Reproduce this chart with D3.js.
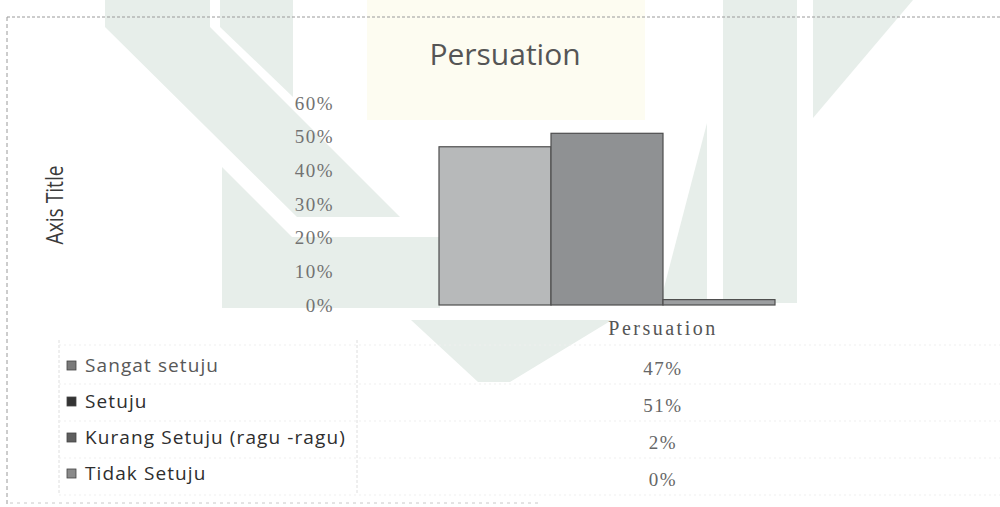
<!DOCTYPE html>
<html>
<head>
<meta charset="utf-8">
<script src="https://cdn.jsdelivr.net/npm/d3@7"></script>
<style>
  html, body { margin: 0; padding: 0; background: #fff; }
  svg { display: block; }
</style>
</head>
<body>
<svg id="chart" width="1000" height="507"></svg>
<script>
// ---- data ----
const chartTitle = "Persuation";
const categories = ["Persuation"];
const seriesNames = ["Sangat setuju", "Setuju", "Kurang Setuju (ragu -ragu)", "Tidak Setuju"];
const seriesValues = [0.47, 0.51, 0.016, 0.0];
const yTicks = [0, 0.1, 0.2, 0.3, 0.4, 0.5, 0.6];
const yAxisTitle = "Axis Title";

// ---- styles ----
const barFills = ["#b7b9ba", "#8f9193", "#9c9ea0", "#c4c4c4"];
const keyFills = ["#7a7a7a", "#333333", "#5e5e5e", "#8a8a8a"];

const svg = d3.select("#chart");

// faint scanned watermark (background decoration)
const wm = svg.append("g").attr("class", "watermark");
const green = "#e7eeea";
const wmShapes = [
  [[105,0],[210,0],[210,27],[400,217],[297,217],[105,27]],
  [[220,0],[293,0],[293,97],[220,27]],
  [[222,167],[292,237],[440,237],[440,308],[222,308]],
  [[723,0],[797,0],[797,303],[723,303]],
  [[660,303],[707,123],[707,303]],
  [[813,0],[913,0],[813,118]],
  [[411,320],[612,320],[510,382],[478,382]]
];
wm.append("rect").attr("x", 367).attr("y", 0).attr("width", 278).attr("height", 120).attr("fill", "#fdfcf1");
wm.selectAll("polygon").data(wmShapes).join("polygon")
  .attr("points", d => d.map(p => p.join(",")).join(" "))
  .attr("fill", green);

// outer frame (dashed, scanned)
svg.append("line").attr("x1", 7).attr("y1", 17).attr("x2", 1000).attr("y2", 17)
  .attr("stroke", "#9a9a9a").attr("stroke-dasharray", "3,2");
svg.append("line").attr("x1", 7).attr("y1", 17).attr("x2", 7).attr("y2", 507)
  .attr("stroke", "#9a9a9a").attr("stroke-dasharray", "4,3");
svg.append("line").attr("x1", 10).attr("y1", 503).attr("x2", 540).attr("y2", 503)
  .attr("stroke", "#c8c8c8").attr("stroke-dasharray", "3,4");

// title
svg.append("text").attr("x", 505).attr("y", 65)
  .attr("text-anchor", "middle")
  .attr("font-family", "'Open Sans', sans-serif").attr("font-size", 30)
  .attr("fill", "#555").text(chartTitle);

// scales
const y = d3.scaleLinear().domain([0, 0.6]).range([305, 103]);
const x0 = d3.scaleBand().domain(categories).range([340, 986]).paddingInner(0).paddingOuter(0.221);
const x1 = d3.scaleBand().domain(seriesNames).range([0, x0.bandwidth()]).padding(0);

// y axis
const yAxis = d3.axisLeft(y).tickValues(yTicks).tickFormat(d3.format(".0%")).tickSize(0).tickPadding(0);
const gy = svg.append("g").attr("transform", "translate(334,0)").call(yAxis);
gy.select(".domain").remove();
gy.selectAll("text")
  .attr("font-family", "'Liberation Serif', serif").attr("font-size", 19)
  .attr("letter-spacing", 1.5)
  .attr("fill", "#727272");

// y axis title
svg.append("text")
  .attr("transform", "translate(63,205) rotate(-90) scale(0.8,1)")
  .attr("text-anchor", "middle")
  .attr("font-family", "'Open Sans', sans-serif").attr("font-size", 24)
  .attr("fill", "#3a3a3a").text(yAxisTitle);

// bars
const gBars = svg.append("g");
categories.forEach(cat => {
  gBars.selectAll("rect.bar").data(seriesNames.map((s, i) => ({ s, v: seriesValues[i], i })))
    .join("rect").attr("class", "bar")
    .attr("x", d => x0(cat) + x1(d.s))
    .attr("y", d => y(d.v))
    .attr("width", x1.bandwidth())
    .attr("height", d => y(0) - y(d.v))
    .attr("fill", d => barFills[d.i])
    .attr("stroke", d => d.v > 0 ? "#4e4e4e" : "none")
    .attr("stroke-width", 1.2);
});

// category axis label
const xAxis = d3.axisBottom(x0).tickSize(0).tickPadding(0);
const gx = svg.append("g").attr("transform", "translate(0,321)").call(xAxis);
gx.select(".domain").remove();
gx.selectAll("text")
  .attr("font-family", "'Liberation Serif', serif").attr("font-size", 20)
  .attr("letter-spacing", 2.5)
  .attr("fill", "#555");

// data table
const labelY = d3.scalePoint().domain(seriesNames).range([372, 480]);
const valueY = d3.scalePoint().domain(seriesNames).range([375, 486]);
const table = svg.append("g");
[59, 357].forEach(xv => table.append("line")
  .attr("x1", xv).attr("x2", xv).attr("y1", 340).attr("y2", 495)
  .attr("stroke", "#dedede").attr("stroke-dasharray", "3,2"));
[345, 384, 421, 458, 495].forEach(yv => table.append("line")
  .attr("x1", 59).attr("x2", 1000).attr("y1", yv).attr("y2", yv)
  .attr("stroke", "#efefef").attr("stroke-dasharray", "2,3"));

const rows = table.selectAll("g.row").data(seriesNames.map((s, i) => ({ s, v: seriesValues[i], i })))
  .join("g").attr("class", "row");
rows.append("rect")
  .attr("x", 67).attr("y", d => labelY(d.s) - 11)
  .attr("width", 9).attr("height", 9)
  .attr("fill", d => keyFills[d.i])
  .attr("stroke", "#444").attr("stroke-width", 0.8);
rows.append("text")
  .attr("x", 85).attr("y", d => labelY(d.s))
  .attr("font-family", "'Open Sans', sans-serif").attr("font-size", 19)
  .attr("letter-spacing", 1.1)
  .attr("fill", d => d.i === 0 ? "#585858" : "#2e2e2e")
  .text(d => d.s);
rows.append("text")
  .attr("x", x0(categories[0]) + x0.bandwidth() / 2)
  .attr("y", d => valueY(d.s))
  .attr("text-anchor", "middle")
  .attr("font-family", "'Liberation Serif', serif").attr("font-size", 19)
  .attr("letter-spacing", 1.5)
  .attr("fill", "#666")
  .text(d => d3.format(".0%")(d.v));
</script>
</body>
</html>
